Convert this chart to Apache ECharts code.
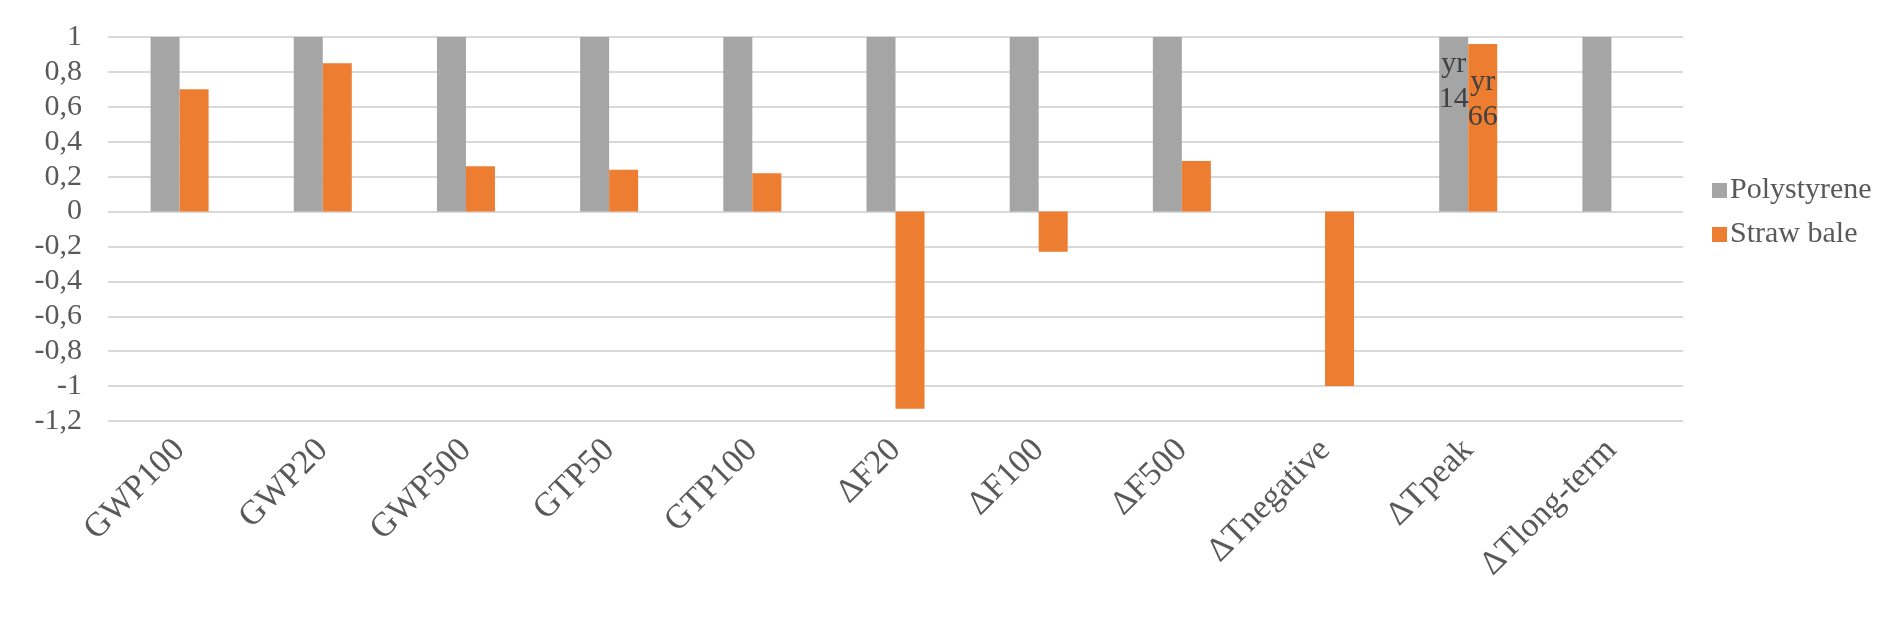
<!DOCTYPE html>
<html>
<head>
<meta charset="utf-8">
<title>Polystyrene vs Straw bale</title>
<script src="https://cdn.jsdelivr.net/npm/echarts@6/dist/echarts.min.js"></script>
<style>
	html, body { margin: 0; padding: 0; background: #fff; }
	#main { width: 1892px; height: 618px; }
</style>
</head>
<body>
<div id="main"></div>
<script>
 //类别与数据
 var categories = ['GWP100', 'GWP20', 'GWP500', 'GTP50', 'GTP100', 'ΔF20', 'ΔF100', 'ΔF500', 'ΔTnegative', 'ΔTpeak', 'ΔTlong-term'];
 var polystyrene = [1, 1, 1, 1, 1, 1, 1, 1, null, 1, 1];
 var strawBale = [0.70, 0.85, 0.26, 0.24, 0.22, -1.13, -0.23, 0.29, -1.00, 0.96, null];
 var seriesNames = ['Polystyrene', 'Straw bale'];
 //ΔTpeak 的数据标签
 var peakIndex = 9;
 var peakLabels = ['yr\n14', 'yr\n66'];
 var yMin = -1.2, yMax = 1, yStep = 0.2;

 var myChart1 = null;
 var textColor = '#595959';
 var fontName = '"Liberation Serif", "Times New Roman", serif';

 function withPeakLabel(values, text, dist){
	return values.map(function(v, i){
		if(i !== peakIndex) return v;
		return {
			value: v,
			label: {
				show: true,
				position: 'insideTop',
				distance: dist,
				formatter: text,
				color: '#404040',
				fontFamily: fontName,
				fontSize: 30,
				lineHeight: 35
			}
		};
	});
 }

 function drawChart(){
	myChart1 = echarts.init(document.getElementById('main'));
	var option = {
		animation: false,
		color: ['#a5a5a5', '#ed7d31'],
		legend: {
			orient: 'vertical',
			left: 1707,
			top: 170,
			itemWidth: 15,
			itemHeight: 15,
			itemGap: 13,
			icon: 'rect',
			textStyle: {
				color: textColor,
				fontFamily: fontName,
				fontSize: 30,
				lineHeight: 31,
				padding: [0, 0, 0, -2]
			},
			data: seriesNames
		},
		grid: {
			left: 108,
			right: 209,
			top: 37,
			bottom: 197,
			containLabel: false
		},
		xAxis: {
			type: 'category',
			data: categories,
			axisLine: { show: false },
			axisTick: { show: false },
			axisLabel: {
				rotate: 45,
				interval: 0,
				margin: 24,
				color: textColor,
				fontFamily: fontName,
				fontSize: 34
			}
		},
		yAxis: {
			type: 'value',
			min: yMin,
			max: yMax,
			interval: yStep,
			axisLine: { show: false },
			axisTick: { show: false },
			axisLabel: {
				margin: 26,
				color: textColor,
				fontFamily: fontName,
				fontSize: 30,
				formatter: function(v){		//小数点用逗号
					return String(Math.round(v * 10) / 10).replace('.', ',');
				}
			},
			splitLine: {
				show: true,
				lineStyle: { color: '#d9d9d9', width: 2 }
			}
		},
		series: [
			{
				name: seriesNames[0],
				type: 'bar',
				barWidth: 29,
				barGap: '0%',
				data: withPeakLabel(polystyrene, peakLabels[0], 10)
			},
			{
				name: seriesNames[1],
				type: 'bar',
				barWidth: 29,
				barGap: '0%',
				data: withPeakLabel(strawBale, peakLabels[1], 21)
			}
		]
	};
	myChart1.setOption(option, true);
	window.addEventListener("resize", function () {
		myChart1.resize();
	});
 }
 drawChart();
</script>
</body>
</html>
